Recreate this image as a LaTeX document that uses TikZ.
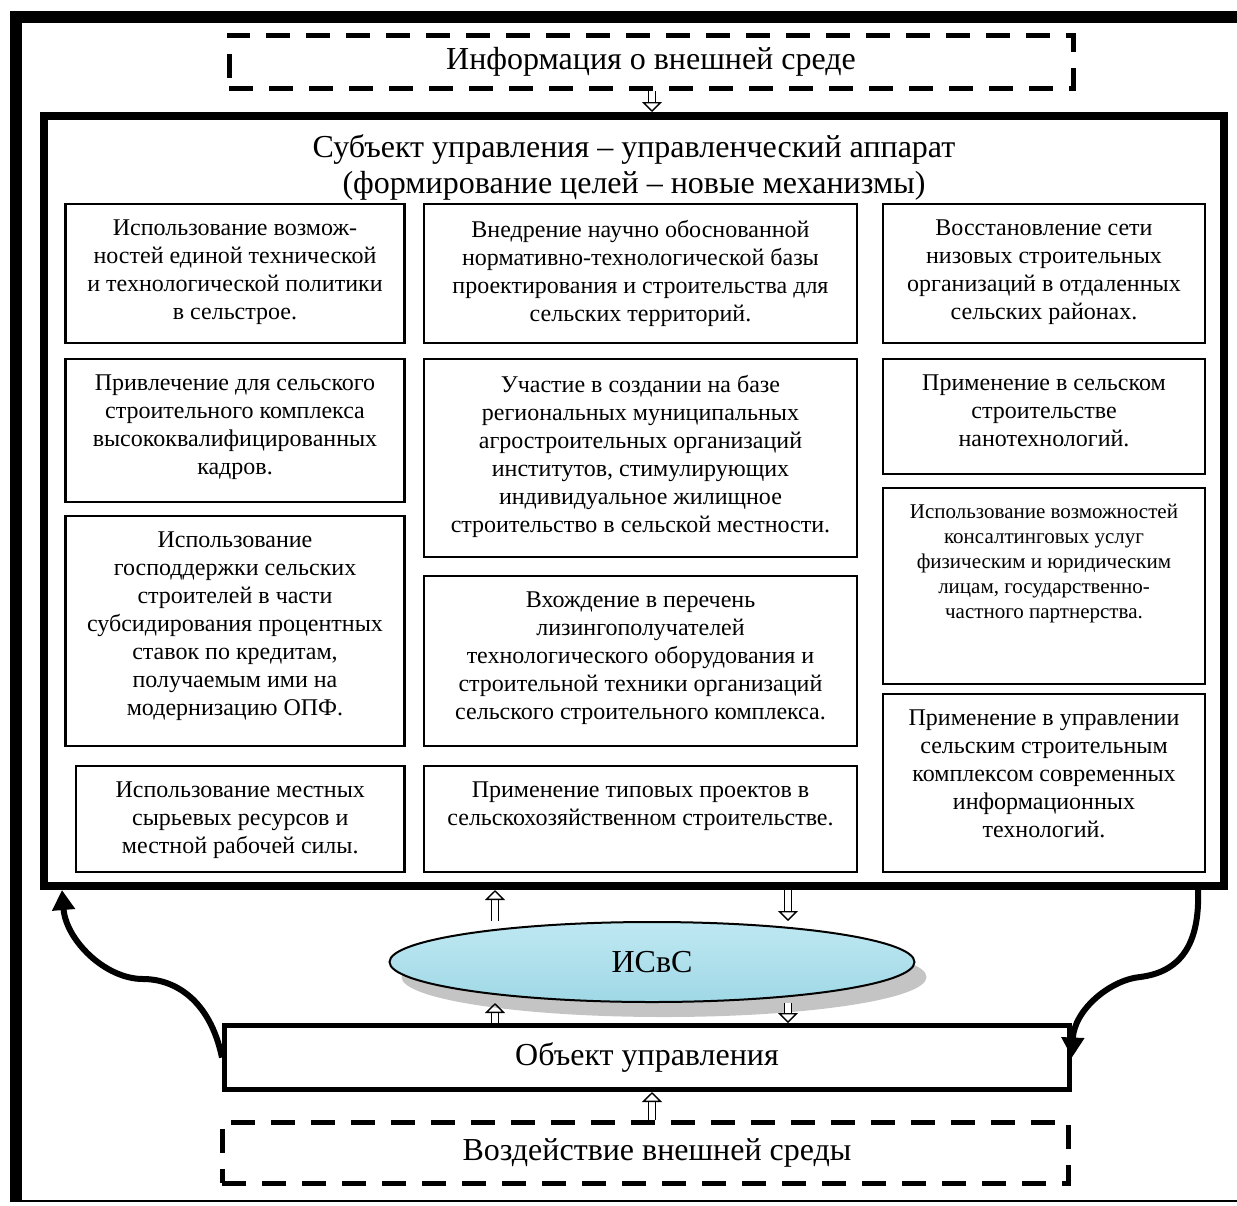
\documentclass[tikz,border=0pt]{standalone}
\usepackage{fontspec}
\setmainfont{Liberation Serif}
\usetikzlibrary{arrows.meta,positioning,fit,calc,shapes.geometric,shadows}
\definecolor{waterblue}{RGB}{160,216,230}
\definecolor{waterlight}{RGB}{190,232,242}
\definecolor{shadowgray}{RGB}{196,196,196}

\begin{document}
\begin{tikzpicture}[
		x=0.5pt, y=-0.5pt,
		frame/.style={draw, line width=4pt, inner sep=0pt, fit={#1}},
		cell/.style={draw, line width=1.4pt, inner sep=0pt, fit={#1}},
		envbox/.style={draw, line width=2.5pt, dash pattern=on 12pt off 8pt, inner sep=0pt, fit={#1}},
		txt/.style={align=center, inner sep=0pt, font=\fontsize{12}{14}\selectfont},
		smalltxt/.style={txt, font=\fontsize{10.5}{12.5}\selectfont},
		bigtxt/.style={align=center, inner sep=0pt, font=\fontsize{16}{18}\selectfont},
		hollow/.style={double, double distance=2.8pt, line width=0.7pt, -{Triangle[open, length=5pt, width=10pt]}},
		backarrow/.style={line width=3pt, -{Triangle[length=10pt, width=11pt]}},
	]
		\useasboundingbox (0,0) rectangle (1237,1205);
		
		% outer frame
		\draw[line width=6pt] (16,1202) -- (16,17) -- (1250,17);
		\draw[line width=1pt] (16,1201) -- (1250,1201);
		
		\node[envbox={(229,35) (1073,88)}] (info) {};
		\node[bigtxt] (infot) at (info.center) {Информация о внешней среде};
		\node[frame={(44,116) (1224,886)}] (subj) {};
		\node[bigtxt, below=11pt of subj.north] (title) {Субъект управления -- управленческий аппарат\\(формирование целей -- новые механизмы)};
		
		% left column
		\node[cell={(65.5,204) (404.5,343)}] (a1) {};
		\node[cell={(65.5,359) (404.5,502)}] (a2) {};
		\node[cell={(65.5,516) (404.5,746)}] (a3) {};
		\node[cell={(76,766) (404.5,872)}] (a4) {};
		\node[txt, below=8.5pt of a1.north] (a1t) {Использование возмож-\\ностей единой технической\\и технологической политики\\в сельстрое.};
		\node[txt, below=8.5pt of a2.north] (a2t) {Привлечение для сельского\\строительного комплекса\\высококвалифицированных\\кадров.};
		\node[txt, below=8.5pt of a3.north] (a3t) {Использование\\господдержки сельских\\строителей в части\\субсидирования процентных\\ставок по кредитам,\\получаемым ими на\\модернизацию ОПФ.};
		\node[txt, below=8.5pt of a4.north] (a4t) {Использование местных\\сырьевых ресурсов и\\местной рабочей силы.};
		
		% middle column
		\node[cell={(424,204) (857,343)}] (b1) {};
		\node[cell={(424,359) (857,557)}] (b2) {};
		\node[cell={(424,576) (857,746)}] (b3) {};
		\node[cell={(424,766) (857,872)}] (b4) {};
		\node[txt, below=8.5pt of b1.north] (b1t) {Внедрение научно обоснованной\\нормативно-технологической базы\\проектирования и строительства для\\сельских территорий.};
		\node[txt, below=8.5pt of b2.north] (b2t) {Участие в создании на базе\\региональных муниципальных\\агростроительных организаций\\институтов, стимулирующих\\индивидуальное жилищное\\строительство в сельской местности.};
		\node[txt, below=8.5pt of b3.north] (b3t) {Вхождение в перечень\\лизингополучателей\\технологического оборудования и\\строительной техники организаций\\сельского строительного комплекса.};
		\node[txt, below=8.5pt of b4.north] (b4t) {Применение типовых проектов в\\сельскохозяйственном строительстве.};
		
		% right column
		\node[cell={(883,204) (1205,343)}] (c1) {};
		\node[cell={(883,359) (1205,474)}] (c2) {};
		\node[cell={(883,488) (1205,684)}] (c3) {};
		\node[cell={(883,694) (1205,872)}] (c4) {};
		\node[txt, below=8.5pt of c1.north] (c1t) {Восстановление сети\\низовых строительных\\организаций в отдаленных\\сельских районах.};
		\node[txt, below=8.5pt of c2.north] (c2t) {Применение в сельском\\строительстве\\нанотехнологий.};
		\node[smalltxt, below=8.5pt of c3.north] (c3t) {Использование возможностей\\консалтинговых услуг\\физическим и юридическим\\лицам, государственно-\\частного партнерства.};
		\node[txt, below=8.5pt of c4.north] (c4t) {Применение в управлении\\сельским строительным\\комплексом современных\\информационных\\технологий.};
		
		\node[ellipse, draw, line width=1pt, minimum width=262.5pt, minimum height=40pt, inner sep=0pt,
			top color=waterlight, bottom color=waterblue,
			drop shadow={shadow xshift=6pt, shadow yshift=-7.5pt, fill=shadowgray, draw=none, opacity=1},
			bigtxt] (isvs) at (652,962) {ИСвС};
		
		\node[frame={(224.5,1025.5) (1069.5,1089.5)}, line width=2.5pt] (obj) {};
		\node[bigtxt] (objt) at (obj.center) {Объект управления};
		\node[envbox={(222,1122) (1068,1183)}] (ext) {};
		\node[bigtxt] (extt) at ($(ext.center)+(12,0)$) {Воздействие внешней среды};
		
		\coordinate (upx) at (495,0);
		\coordinate (dnx) at (788,0);
		\coordinate (midx) at (652,0);
		
		\draw[hollow] (midx |- info.south) -- (midx |- subj.north);
		\draw[hollow] (upx |- isvs.north) -- (upx |- subj.south);
		\draw[hollow] (dnx |- subj.south) -- (dnx |- isvs.north);
		\draw[hollow] (upx |- obj.north) -- (upx |- isvs.south);
		\draw[hollow] (dnx |- isvs.south) -- (dnx |- obj.north);
		\draw[hollow] (midx |- ext.north) -- (midx |- obj.south);
		
		% feedback loops
		\draw[backarrow] (obj.west) .. controls (210,1000) and (175,979) .. (143,979)
			.. controls (105,979) and (66,940) .. ($(subj.south west)+(22,0)$);
		\draw[backarrow] ($(subj.south east)+(-30,0)$) .. controls (1200,945) and (1180,972) .. (1140,977)
			.. controls (1110,980) and (1074,1010) .. (obj.east);
	\end{tikzpicture}
\end{document}
